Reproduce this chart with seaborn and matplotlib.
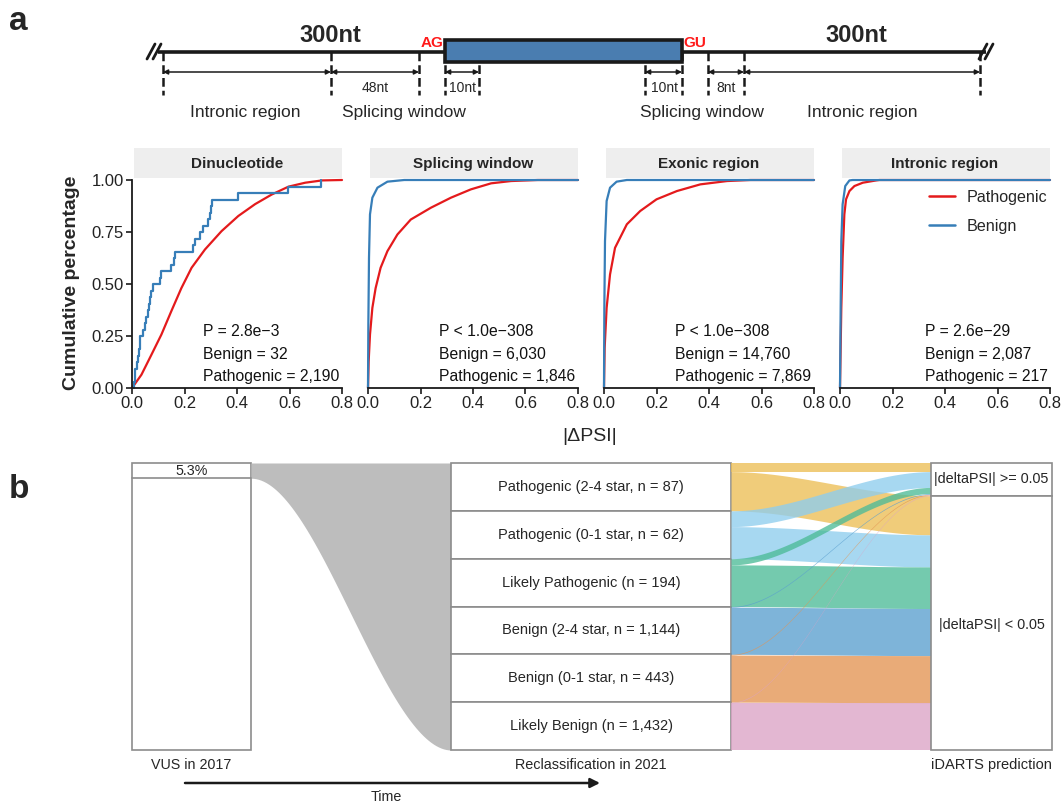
import numpy as np
import matplotlib
matplotlib.use('Agg')
import matplotlib.pyplot as plt
import seaborn as sns
from matplotlib.patches import Rectangle
from matplotlib.lines import Line2D

sns.set_theme(style='ticks')
plt.rcParams['font.family'] = ['Liberation Sans', 'DejaVu Sans']

# ---------------- data ----------------
panels = ['Dinucleotide', 'Splicing window', 'Exonic region', 'Intronic region']
p_text = ['P = 2.8e\u22123', 'P < 1.0e\u2212308', 'P < 1.0e\u2212308', 'P = 2.6e\u221229']
n_benign = ['32', '6,030', '14,760', '2,087']
n_path = ['2,190', '1,846', '7,869', '217']

# Dinucleotide benign |dPSI| values (32 variants)
dinuc_benign = [0.0076, 0.0110, 0.0127, 0.019, 0.022, 0.025, 0.029, 0.032, 0.042, 0.051,
                0.055, 0.060, 0.065, 0.070, 0.074, 0.080, 0.106, 0.112, 0.150, 0.160,
                0.163, 0.233, 0.240, 0.259, 0.271, 0.290, 0.297, 0.300, 0.306, 0.405,
                0.596, 0.720]
# cumulative curves
dinuc_path_x = [0, 0.036, 0.074, 0.112, 0.15, 0.188, 0.227, 0.278, 0.341, 0.405, 0.469, 0.532, 0.596, 0.66, 0.724, 0.8]
dinuc_path_y = [0, 0.064, 0.16, 0.257, 0.37, 0.48, 0.578, 0.666, 0.754, 0.827, 0.884, 0.93, 0.968, 0.987, 0.998, 1.0]
sw_path_x = [0, 0.0025, 0.0076, 0.0166, 0.029, 0.048, 0.074, 0.112, 0.163, 0.24, 0.316, 0.392, 0.469, 0.545, 0.647, 0.8]
sw_path_y = [0, 0.128, 0.257, 0.385, 0.48, 0.578, 0.658, 0.738, 0.81, 0.867, 0.915, 0.955, 0.984, 0.995, 1.0, 1.0]
sw_ben_x = [0, 0.0013, 0.0038, 0.0076, 0.0166, 0.036, 0.074, 0.138, 0.8]
sw_ben_y = [0, 0.305, 0.626, 0.835, 0.915, 0.963, 0.992, 1.0, 1.0]
ex_path_x = [0, 0.0025, 0.010, 0.023, 0.042, 0.087, 0.138, 0.200, 0.278, 0.367, 0.469, 0.558, 0.8]
ex_path_y = [0, 0.193, 0.385, 0.546, 0.674, 0.787, 0.851, 0.907, 0.947, 0.979, 0.995, 1.0, 1.0]
ex_ben_x = [0, 0.0013, 0.0038, 0.010, 0.023, 0.048, 0.087, 0.8]
ex_ben_y = [0, 0.385, 0.706, 0.899, 0.963, 0.992, 1.0, 1.0]
in_path_x = [0, 0.005, 0.010, 0.0166, 0.023, 0.036, 0.055, 0.087, 0.138, 0.150, 0.8]
in_path_y = [0, 0.385, 0.626, 0.835, 0.907, 0.947, 0.971, 0.987, 0.998, 1.0, 1.0]
in_ben_x = [0, 0.0025, 0.005, 0.010, 0.020, 0.036, 0.048, 0.8]
in_ben_y = [0, 0.385, 0.706, 0.883, 0.971, 0.998, 1.0, 1.0]

# panel b
vus_pct = 5.3
reclass_labels = ['Pathogenic (2-4 star, n = 87)', 'Pathogenic (0-1 star, n = 62)',
                  'Likely Pathogenic (n = 194)', 'Benign (2-4 star, n = 1,144)',
                  'Benign (0-1 star, n = 443)', 'Likely Benign (n = 1,432)']
frac_high = [0.18, 0.33, 0.13, 0.015, 0.015, 0.012]
pred_labels = ['|deltaPSI| >= 0.05', '|deltaPSI| < 0.05']
flow_colors = ['#EDBE55', '#8ECDEE', '#4DBB98', '#5A9FCF', '#E39452', '#DCA3C6']

RED = '#E41A1C'
BLUE = '#377EB8'

# ---------------- figure ----------------
W, H = 1064, 806
fig = plt.figure(figsize=(W / 100, H / 100), dpi=100)
bg = fig.add_axes([0, 0, 1, 1])
bg.set_xlim(0, W)
bg.set_ylim(H, 0)
bg.axis('off')

bg.text(9, 21, 'a', fontsize=24, fontweight='bold', ha='left', va='center')
bg.text(9, 490, 'b', fontsize=24, fontweight='bold', ha='left', va='center')

# ---- schematic ----
ly = 52
bg.plot([158, 445], [ly, ly], color='k', lw=2.6, solid_capstyle='butt')
bg.plot([682, 986], [ly, ly], color='k', lw=2.6, solid_capstyle='butt')
for x0 in (147, 153):
    bg.plot([x0, x0 + 8], [59, 44], color='k', lw=2.0)
for x0 in (979, 985):
    bg.plot([x0, x0 + 8], [59, 44], color='k', lw=2.0)
bg.add_patch(Rectangle((445, 40), 237, 22, facecolor='#4A7DB0', edgecolor='k', lw=2.6, zorder=3))
for xv in [163, 331, 419, 445, 479, 645, 682, 708, 744, 980]:
    bg.plot([xv, xv], [ly, 95], color='k', lw=1.8, ls=(0, (3.5, 1.6)), zorder=2)
for a, b in [(163, 331), (331, 419), (445, 479), (645, 682), (708, 744), (744, 980)]:
    bg.annotate('', xy=(a, 72), xytext=(b, 72),
                arrowprops=dict(arrowstyle='<|-|>', lw=1.1, color='k', shrinkA=0, shrinkB=0,
                                mutation_scale=7))
for x, t in [(375, '48nt'), (462, '10nt'), (664, '10nt'), (726, '8nt')]:
    bg.text(x, 88, t, fontsize=10, ha='center', va='center')
for x, t in [(245, 'Intronic region'), (404, 'Splicing window'), (702, 'Splicing window'),
             (862, 'Intronic region')]:
    bg.text(x, 112, t, fontsize=12.5, ha='center', va='center')
for x in (330, 856):
    bg.text(x, 36, '300nt', fontsize=17, fontweight='bold', ha='center', va='center')
bg.text(432, 43, 'AG', fontsize=11, fontweight='bold', color='#FF1A1A', ha='center', va='center')
bg.text(695, 43, 'GU', fontsize=11, fontweight='bold', color='#FF1A1A', ha='center', va='center')

# ---- ECDF panels ----
lefts = [132, 368, 604, 840]
pw = 210
ytop, ybot = 180, 388
curves = [
    (None, (dinuc_path_x, dinuc_path_y)),
    ((sw_ben_x, sw_ben_y), (sw_path_x, sw_path_y)),
    ((ex_ben_x, ex_ben_y), (ex_path_x, ex_path_y)),
    ((in_ben_x, in_ben_y), (in_path_x, in_path_y)),
]
text_x = [0.27, 0.27, 0.27, 0.323]
axes = []
for i, L in enumerate(lefts):
    ax = fig.add_axes([L / W, 1 - ybot / H, pw / W, (ybot - ytop) / H])
    ax.set_facecolor('none')
    ben, path = curves[i]
    sns.lineplot(x=path[0], y=path[1], ax=ax, color=RED, lw=1.6, estimator=None, sort=False)
    if i == 0:
        sns.ecdfplot(x=dinuc_benign, ax=ax, color=BLUE, lw=1.6)
    else:
        sns.lineplot(x=ben[0], y=ben[1], ax=ax, color=BLUE, lw=1.6, estimator=None, sort=False)
    for ln in ax.lines:
        ln.set_clip_on(False)
    ax.set_xlim(0, 0.8)
    ax.set_ylim(0, 1)
    ax.set_xticks([0, 0.2, 0.4, 0.6, 0.8])
    ax.set_xticklabels(['0.0', '0.2', '0.4', '0.6', '0.8'])
    ax.set_xlabel('')
    ax.set_ylabel('')
    ax.tick_params(axis='both', labelsize=12, length=4, width=1.2, color='k', pad=2,
                   labelcolor='#222222')
    for s in ['top', 'right']:
        ax.spines[s].set_visible(False)
    ax.spines['bottom'].set_linewidth(1.3)
    ax.spines['left'].set_linewidth(1.3)
    ax.spines['bottom'].set_color('k')
    ax.spines['left'].set_color('k')
    if i == 0:
        ax.set_yticks([0, 0.25, 0.5, 0.75, 1.0])
        ax.set_yticklabels(['0.00', '0.25', '0.50', '0.75', '1.00'])
    else:
        ax.spines['left'].set_visible(False)
        ax.set_yticks([])
    for yy, t in zip([0.27, 0.159, 0.053], [p_text[i], 'Benign = ' + n_benign[i],
                                             'Pathogenic = ' + n_path[i]]):
        ax.text(text_x[i], yy, t, fontsize=11.3, ha='left', va='center', color='#111111')
    # strip
    bg.add_patch(Rectangle((L + 2, 148), pw - 2, 30, facecolor='#EEEEEE', edgecolor='none'))
    bg.text(L + pw / 2, 164, panels[i], fontsize=11, fontweight='bold', ha='center', va='center')
    axes.append(ax)

handles = [Line2D([], [], color=RED, lw=1.8), Line2D([], [], color=BLUE, lw=1.8)]
axes[3].legend(handles, ['Pathogenic', 'Benign'], loc='upper left', frameon=False,
               bbox_to_anchor=(929 / W, 1 - 190 / H), bbox_transform=fig.transFigure,
               fontsize=11.6, handlelength=1.6, handletextpad=0.75, labelspacing=0.85,
               borderpad=0, borderaxespad=0)

fig.text(72 / W, 1 - 283 / H, 'Cumulative percentage', rotation=90, fontsize=14,
         fontweight='bold', ha='center', va='center')
fig.text(590 / W, 1 - 437 / H, '|\u0394PSI|', fontsize=14, ha='center', va='center')

# ---- panel b ----
top, bottom = 463, 750
Ht = bottom - top
edge = '#8C8C8C'
t = np.linspace(0, 1, 80)
s = t * t * (3 - 2 * t)

def ribbon(x0, x1, a0, b0, a1, b1, color, alpha):
    xs = x0 + (x1 - x0) * t
    ya = a0 + (a1 - a0) * s
    yb = b0 + (b1 - b0) * s
    bg.fill_between(xs, ya, yb, color=color, alpha=alpha, lw=0)

# left bar
lx0, lx1 = 132, 251
vus_h = Ht * vus_pct / 100
bg.add_patch(Rectangle((lx0, top), lx1 - lx0, Ht, facecolor='white', edgecolor=edge, lw=1.2))
bg.plot([lx0, lx1], [top + vus_h, top + vus_h], color=edge, lw=1.2)
bg.text((lx0 + lx1) / 2, top + vus_h / 2 + 0.5, f'{vus_pct}%', fontsize=10.3, ha='center', va='center')
bg.text((lx0 + lx1) / 2, 765, 'VUS in 2017', fontsize=10.3, ha='center', va='center')

# middle column
mx0, mx1 = 451, 731
ribbon(lx1, mx0, top, top + vus_h, top, bottom, '#BDBDBD', 1.0)
nb = len(reclass_labels)
bh = Ht / nb
for k, lab in enumerate(reclass_labels):
    y0 = top + k * bh
    bg.add_patch(Rectangle((mx0, y0), mx1 - mx0, bh, facecolor='white', edgecolor=edge, lw=1.2))
    bg.text((mx0 + mx1) / 2, y0 + bh / 2, lab, fontsize=10.5, ha='center', va='center')
bg.text((mx0 + mx1) / 2, 765, 'Reclassification in 2021', fontsize=10.4, ha='center', va='center')

# right node + flows
rx0, rx1 = 931, 1052
hi_total = sum(f * bh for f in frac_high)
split = top + hi_total
cur_hi = top
cur_lo = split
for k in range(nb):
    y0 = top + k * bh
    h_hi = frac_high[k] * bh
    h_lo = bh - h_hi
    ribbon(mx1, rx0, y0 + h_hi, y0 + bh, cur_lo, cur_lo + h_lo, flow_colors[k], 0.78)
    cur_lo += h_lo
for k in range(nb):
    y0 = top + k * bh
    h_hi = frac_high[k] * bh
    ribbon(mx1, rx0, y0, y0 + h_hi, cur_hi, cur_hi + h_hi, flow_colors[k], 0.78)
    cur_hi += h_hi

bg.add_patch(Rectangle((rx0, top), rx1 - rx0, split - top, facecolor='white', edgecolor=edge, lw=1.2))
bg.add_patch(Rectangle((rx0, split), rx1 - rx0, bottom - split, facecolor='white', edgecolor=edge, lw=1.2))
bg.text((rx0 + rx1) / 2, (top + split) / 2, pred_labels[0], fontsize=10.4, ha='center', va='center')
bg.text((rx0 + rx1) / 2, 625, pred_labels[1], fontsize=10.4, ha='center', va='center')
bg.text((rx0 + rx1) / 2, 765, 'iDARTS prediction', fontsize=10.5, ha='center', va='center')

bg.annotate('', xy=(600, 783), xytext=(185, 783),
            arrowprops=dict(arrowstyle='-|>', lw=1.8, color='k', shrinkA=0, shrinkB=0,
                            mutation_scale=14))
bg.text(386, 797, 'Time', fontsize=10.3, ha='center', va='center')

fig.savefig('out.png', dpi=100)
